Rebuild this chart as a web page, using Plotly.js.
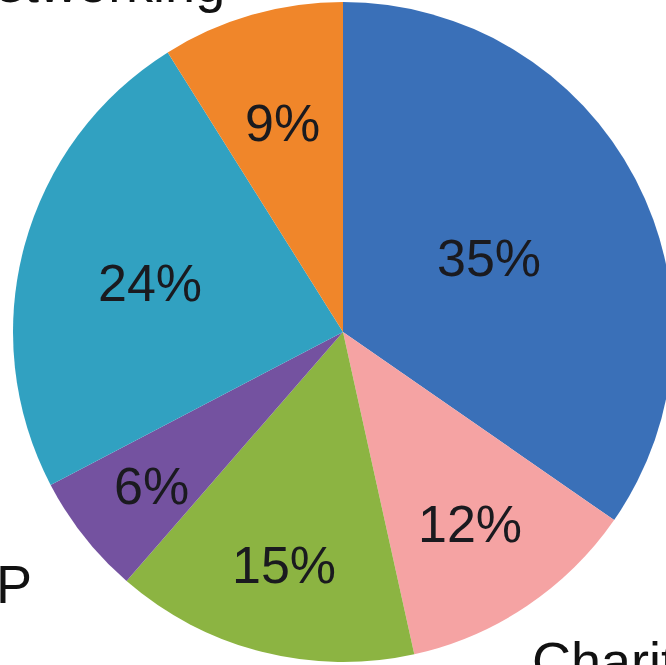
<!DOCTYPE html>
<html>
<head>
<meta charset="utf-8">
<script src="https://cdn.plot.ly/plotly-3.0.1.min.js"></script>
<style>
  html, body { margin: 0; padding: 0; width: 666px; height: 665px; overflow: hidden; background: #ffffff; }
  #chart { position: absolute; left: -57px; top: -68px; width: 800px; height: 800px; }
</style>
</head>
<body>
<div id="chart"></div>
<script>
// Data (clockwise from 12 o'clock)
const categories = ["Charity", "Sales", "Marketing", "P", "Training", "Breakfastworking"];
const percentages = [35, 12, 15, 6, 24, 9];
const sliceColors = ["#3a70b8", "#f5a3a3", "#8cb442", "#7452a0", "#31a1c1", "#f0862a"];

// label placement style (fraction of radius, along each slice's middle angle)
const labelRadius = [0.5, 0.689, 0.72, 0.738, 0.606, 0.667];

const W = 800, H = 800;
const domX = [70 / W, 730 / W], domY = [70 / H, 730 / H];
const cx = (domX[0] + domX[1]) / 2, cy = (domY[0] + domY[1]) / 2;
const rPaper = (domX[1] - domX[0]) / 2;

const trace = {
  type: "pie",
  labels: categories,
  values: percentages,
  sort: false,
  direction: "clockwise",
  rotation: 0,
  marker: { colors: sliceColors, line: { width: 0 } },
  textinfo: "none",
  hoverinfo: "none",
  domain: { x: domX, y: domY },
  showlegend: false
};

const pctFont = { family: "Liberation Sans, Arial, sans-serif", size: 52, color: "#1a1a1f" };
const total = percentages.reduce((a, b) => a + b, 0);
const pctAnnotations = [];
let cum = 0;
percentages.forEach((v, i) => {
  const mid = (cum + v / 2) / total * 2 * Math.PI;
  cum += v;
  pctAnnotations.push({
    text: v + "%",
    xref: "paper", yref: "paper",
    x: cx + labelRadius[i] * rPaper * Math.sin(mid),
    y: cy + labelRadius[i] * rPaper * Math.cos(mid),
    xanchor: "center", yanchor: "middle", yshift: -3,
    showarrow: false, font: pctFont
  });
});

const font = { family: "Liberation Sans, Arial, sans-serif", size: 54, color: "#111111" };
const layout = {
  width: W, height: H,
  margin: { l: 0, r: 0, t: 0, b: 0 },
  paper_bgcolor: "#ffffff",
  showlegend: false,
  annotations: pctAnnotations.concat([
    { text: "Breakfastworking", xref: "paper", yref: "paper", x: 284 / W, y: 1 - 51 / H, xanchor: "right", yanchor: "middle", showarrow: false, font: font },
    { text: "P", xref: "paper", yref: "paper", x: 91 / W, y: 1 - 652 / H, xanchor: "right", yanchor: "middle", showarrow: false, font: font },
    { text: "Charity", xref: "paper", yref: "paper", x: 587 / W, y: 1 - 729 / H, xanchor: "left", yanchor: "middle", showarrow: false, font: font }
  ])
};

Plotly.newPlot("chart", [trace], layout, { displayModeBar: false, staticPlot: true });
</script>
</body>
</html>
